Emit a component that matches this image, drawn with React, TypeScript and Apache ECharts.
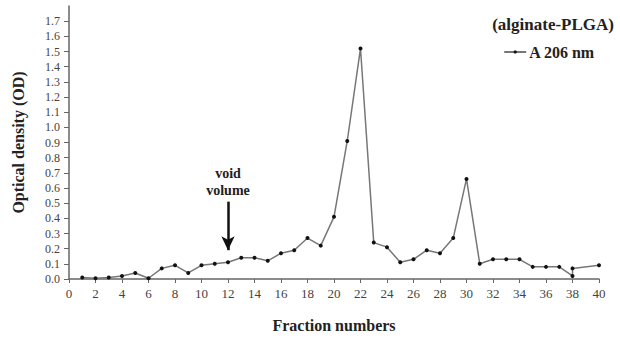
import React, { useEffect, useRef } from "react";
import * as echarts from "echarts";

const fractions = [1, 2, 3, 4, 5, 6, 7, 8, 9, 10, 11, 12, 13, 14, 15, 16, 17, 18, 19, 20, 21, 22, 23, 24, 25, 26, 27, 28, 29, 30, 31, 32, 33, 34, 35, 36, 37, 38, 38, 40];
const od206 = [0.01, 0.005, 0.01, 0.02, 0.04, 0.005, 0.07, 0.09, 0.04, 0.09, 0.1, 0.11, 0.14, 0.14, 0.12, 0.17, 0.19, 0.27, 0.22, 0.41, 0.91, 1.52, 0.24, 0.21, 0.11, 0.13, 0.19, 0.17, 0.27, 0.66, 0.1, 0.13, 0.13, 0.13, 0.08, 0.08, 0.08, 0.02, 0.07, 0.09];
const yTicks = [0, 0.1, 0.2, 0.3, 0.4, 0.5, 0.6, 0.7, 0.8, 0.9, 1.0, 1.1, 1.2, 1.3, 1.4, 1.5, 1.6, 1.7];
const voidFraction = 12;
const arrowFrom = 0.51;
const arrowTo = 0.19;

const FONT = "'Liberation Serif', 'DejaVu Serif', serif";

export default function App() {
  const ref = useRef<HTMLDivElement>(null);
  useEffect(() => {
    if (!ref.current) return;
    const chart = echarts.init(ref.current, null, { renderer: "svg" });
    const data = fractions.map((f, i) => [f, od206[i]]);
    chart.setOption({
      animation: false,
      backgroundColor: "#ffffff",
      textStyle: { fontFamily: FONT },
      title: {
        text: "(alginate-PLGA)",
        right: 1,
        top: 11,
        textStyle: { fontFamily: FONT, fontWeight: "bold", fontSize: 17, color: "#222" },
      },
      legend: {
        right: 20,
        top: 39,
        itemWidth: 22,
        itemHeight: 4,
        itemGap: 4,
        textStyle: { fontFamily: FONT, fontWeight: "bold", fontSize: 16, color: "#222", padding: [0, 0, 0, -2] },
        data: ["A 206 nm"],
      },
      grid: { left: 69, right: 21, top: 6, bottom: 55, containLabel: false },
      xAxis: {
        type: "value",
        min: 0,
        max: 40,
        interval: 2,
        name: "Fraction numbers",
        nameLocation: "middle",
        nameGap: 38,
        nameTextStyle: { fontFamily: FONT, fontWeight: "bold", fontSize: 16, color: "#222" },
        axisLine: { lineStyle: { color: "#666", width: 1.5 } },
        axisTick: { length: 4, lineStyle: { color: "#666" } },
        axisLabel: { fontFamily: FONT, fontSize: 13, color: "#444", margin: 8 },
        splitLine: { show: false },
      },
      yAxis: {
        type: "value",
        min: 0,
        max: 1.8,
        interval: 0.1,
        name: "Optical density (OD)",
        nameLocation: "middle",
        nameGap: 43,
        nameTextStyle: { fontFamily: FONT, fontWeight: "bold", fontSize: 16, color: "#222" },
        axisLine: { show: true, lineStyle: { color: "#666", width: 1.5 } },
        axisTick: { show: true, length: 5, customValues: yTicks, lineStyle: { color: "#666" } },
        axisLabel: {
          fontFamily: FONT,
          fontSize: 12,
          color: "#444",
          margin: 9,
          customValues: yTicks,
          formatter: (v: number) => v.toFixed(1),
        },
        splitLine: { show: false },
      },
      series: [
        {
          name: "A 206 nm",
          type: "line",
          data,
          symbol: "circle",
          symbolSize: 4,
          lineStyle: { color: "#777", width: 1.5 },
          itemStyle: { color: "#111" },
          markLine: {
            silent: true,
            symbol: ["none", "arrow"],
            symbolSize: [10, 14],
            lineStyle: { color: "#111", width: 2.5, type: "solid" },
            label: {
              show: true,
              position: "start",
              formatter: "void\nvolume",
              fontFamily: FONT,
              fontWeight: "bold",
              fontSize: 14,
              lineHeight: 17,
              color: "#222",
              distance: 3,
            },
            data: [[{ coord: [voidFraction, arrowFrom] }, { coord: [voidFraction, arrowTo] }]],
          },
        },
      ],
    });
    return () => chart.dispose();
  }, []);
  return (
    <div
      ref={ref}
      style={{ position: "absolute", left: 0, top: 0, width: 620, height: 338 }}
    />
  );
}
